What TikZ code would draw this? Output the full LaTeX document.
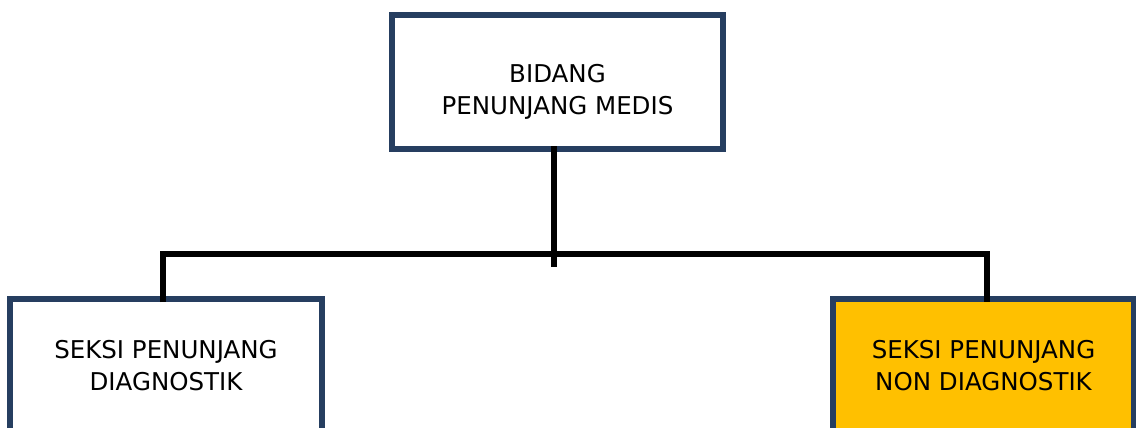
\documentclass[tikz,border=0pt]{standalone}
\usepackage{fontspec}
\setmainfont{DejaVu Sans}
\usetikzlibrary{positioning}
\definecolor{unitline}{RGB}{38,62,96}
\definecolor{unitgold}{RGB}{255,192,0}
\tikzset{
  unitbox/.style={draw=unitline, line width=6pt, minimum width=#1, minimum height=134pt,
    inner sep=0pt, align=center, font=\fontsize{24.5}{32}\selectfont},
  unittext/.style={align=center, font=\fontsize{24.5}{32}\selectfont},
  link/.style={line width=6pt, line join=miter}
}
\begin{document}
\begin{tikzpicture}[x=1pt,y=-1pt]

  \useasboundingbox (0,0) rectangle (1136,428);

  \node[unitbox=331pt] (bidang) at (557.5,82) {};
  \node[unittext] (bidangtext) at ([yshift=-10pt]bidang.center) {BIDANG\\PENUNJANG MEDIS};
  \node[unitbox=312pt] (diag) at (166,366) {SEKSI PENUNJANG\\DIAGNOSTIK};
  \node[unitbox=301pt, fill=unitgold] (nondiag) at (983.5,366) {SEKSI PENUNJANG\\NON DIAGNOSTIK};

  \coordinate (stem) at (554,267);
  \coordinate (leftdrop) at (163,254);
  \coordinate (rightdrop) at (987,254);

  \draw[link] ([yshift=6pt]stem |- bidang.south) -- (stem);
  \draw[link] ([yshift=-6pt]leftdrop |- diag.north) -- (leftdrop)
    -- (rightdrop) -- ([yshift=-6pt]rightdrop |- nondiag.north);

\end{tikzpicture}
\end{document}
